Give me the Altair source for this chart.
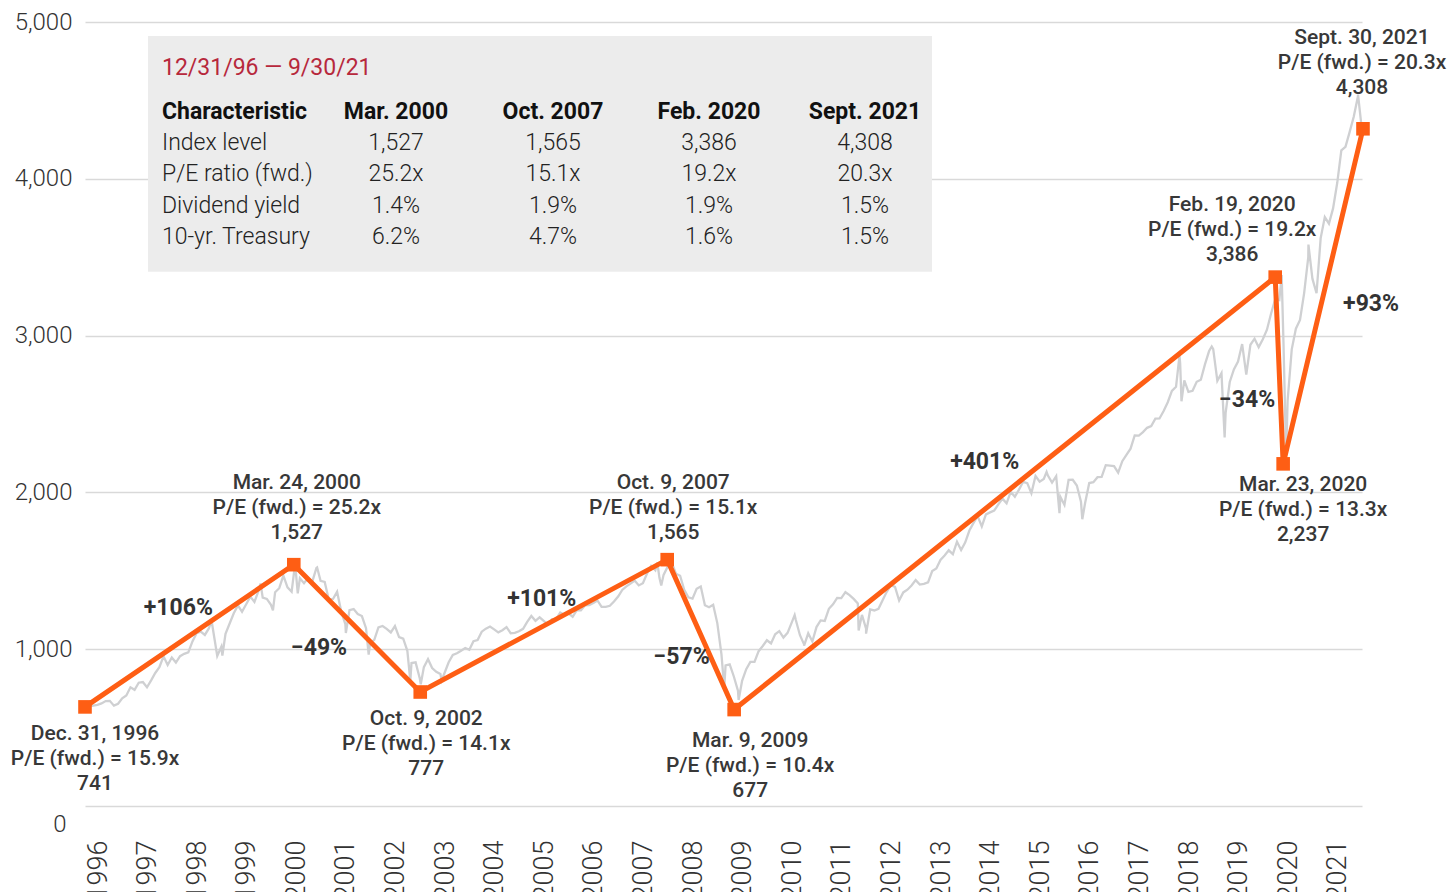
import altair as alt
import pandas as pd

# ------------------------------------------------------------------ data
years = list(range(1996, 2022))
y_ticks = [0, 1000, 2000, 3000, 4000, 5000]

# S&P 500 month-end closes
sp_1996_2000 = [636.02, 640.43, 645.50, 654.17, 669.12, 670.63, 639.95, 651.99, 687.31, 705.27, 757.02, 740.74,
                786.16, 790.82, 757.12, 801.34, 848.28, 885.14, 954.31, 899.47, 947.28, 914.62, 955.40, 970.43,
                980.28, 1049.34, 1101.75, 1111.75, 1090.82, 1133.84, 1120.67, 957.28, 1017.01, 1098.67, 1163.63, 1229.23,
                1279.64, 1238.33, 1286.37, 1335.18, 1301.84, 1372.71, 1328.72, 1320.41, 1282.71, 1362.93, 1388.91, 1469.25,
                1394.46, 1366.42, 1498.58, 1452.43, 1420.60, 1454.60, 1430.83, 1517.68, 1436.51, 1429.40, 1314.95, 1320.28]
sp_2001_2005 = [1366.01, 1239.94, 1160.33, 1249.46, 1255.82, 1224.42, 1211.23, 1133.58, 1040.94, 1059.78, 1139.45, 1148.08,
                1130.20, 1106.73, 1147.39, 1076.92, 1067.14, 989.82, 911.62, 916.07, 815.28, 885.76, 936.31, 879.82,
                855.70, 841.15, 848.18, 916.92, 963.59, 974.50, 990.31, 1008.01, 995.97, 1050.71, 1058.20, 1111.92,
                1131.13, 1144.94, 1126.21, 1107.30, 1120.68, 1140.84, 1101.72, 1104.24, 1114.58, 1130.20, 1173.82, 1211.92,
                1181.27, 1203.60, 1180.59, 1156.85, 1191.50, 1191.33, 1234.18, 1220.33, 1228.81, 1207.01, 1249.48, 1248.29]
sp_2006_2010 = [1280.08, 1280.66, 1294.83, 1310.61, 1270.09, 1270.20, 1276.66, 1303.82, 1335.85, 1377.94, 1400.63, 1418.30,
                1438.24, 1406.82, 1420.86, 1482.37, 1530.62, 1503.35, 1455.27, 1473.99, 1526.75, 1549.38, 1481.14, 1468.36,
                1378.55, 1330.63, 1322.70, 1385.59, 1400.38, 1280.00, 1267.38, 1282.83, 1166.36, 968.75, 896.24, 903.25,
                825.88, 735.09, 797.87, 872.81, 919.14, 919.32, 987.48, 1020.62, 1057.08, 1036.19, 1095.63, 1115.10,
                1073.87, 1104.49, 1169.43, 1186.69, 1089.41, 1030.71, 1101.60, 1049.33, 1141.20, 1183.26, 1180.55, 1257.64]
sp_2011_2015 = [1286.12, 1327.22, 1325.83, 1363.61, 1345.20, 1320.64, 1292.28, 1218.89, 1131.42, 1253.30, 1246.96, 1257.60,
                1312.41, 1365.68, 1408.47, 1397.91, 1310.33, 1362.16, 1379.32, 1406.58, 1440.67, 1412.16, 1416.18, 1426.19,
                1498.11, 1514.68, 1569.19, 1597.57, 1630.74, 1606.28, 1685.73, 1632.97, 1681.55, 1756.54, 1805.81, 1848.36,
                1782.59, 1859.45, 1872.34, 1883.95, 1923.57, 1960.23, 1930.67, 2003.37, 1972.29, 2018.05, 2067.56, 2058.90,
                1994.99, 2104.50, 2067.89, 2085.51, 2107.39, 2063.11, 2103.84, 1972.18, 1920.03, 2079.36, 2080.41, 2043.94]
sp_2016_2020 = [1940.24, 1932.23, 2059.74, 2065.30, 2096.95, 2098.86, 2173.60, 2170.95, 2168.27, 2126.15, 2198.81, 2238.83,
                2278.87, 2363.64, 2362.72, 2384.20, 2411.80, 2423.41, 2470.30, 2471.65, 2519.36, 2575.26, 2647.58, 2673.61,
                2823.81, 2713.83, 2640.87, 2648.05, 2705.27, 2718.37, 2816.29, 2901.52, 2913.98, 2711.74, 2760.17, 2506.85,
                2704.10, 2784.49, 2834.40, 2945.83, 2752.06, 2941.76, 2980.38, 2926.46, 2976.74, 3037.56, 3140.98, 3230.78,
                3225.52, 2954.22, 2584.59, 2912.43, 3044.31, 3100.29, 3271.12, 3500.31, 3363.00, 3269.96, 3621.63, 3756.07]
sp_2021 = [3714.24, 3811.15, 3972.89, 4181.17, 4204.11, 4297.50, 4395.26, 4522.68, 4307.54]

# intra-month highs / lows visible in the grey line (decimal year, level)
extreme_t = [1996.00, 1998.55, 1998.77, 1999.54, 1999.79, 2000.23, 2000.29, 2000.68, 2001.26, 2001.72,
             2002.56, 2002.77, 2003.19, 2007.54, 2007.62, 2007.77, 2008.89, 2009.18, 2010.31, 2010.50,
             2011.60, 2011.75, 2015.39, 2015.65, 2016.11, 2018.07, 2018.11, 2018.72, 2018.98, 2020.13,
             2020.22, 2020.67, 2021.67]
extreme_v = [615.93, 1186.75, 959.44, 1418.78, 1247.41, 1527.46, 1356.56, 1520.77, 1103.25, 965.80,
             797.70, 776.76, 800.73, 1553.08, 1406.70, 1565.15, 752.44, 676.53, 1217.28, 1022.58,
             1119.46, 1099.23, 2130.82, 1867.61, 1829.08, 2872.87, 2581.00, 2930.75, 2351.10, 3386.15,
             2237.40, 3580.84, 4536.95]

# orange peak-to-trough line, as drawn (decimal year, level)
orange_t = [1996.00, 2000.21, 2002.76, 2007.74, 2009.09, 2020.00, 2020.16, 2021.77]
orange_v = [632, 1539, 727, 1571, 615, 3373, 2182, 4319]
point_labels = [
    "Dec. 31, 1996\nP/E (fwd.) = 15.9x\n741",
    "Mar. 24, 2000\nP/E (fwd.) = 25.2x\n1,527",
    "Oct. 9, 2002\nP/E (fwd.) = 14.1x\n777",
    "Oct. 9, 2007\nP/E (fwd.) = 15.1x\n1,565",
    "Mar. 9, 2009\nP/E (fwd.) = 10.4x\n677",
    "Feb. 19, 2020\nP/E (fwd.) = 19.2x\n3,386",
    "Mar. 23, 2020\nP/E (fwd.) = 13.3x\n2,237",
    "Sept. 30, 2021\nP/E (fwd.) = 20.3x\n4,308",
]
change_labels = ["+106%", "\u221249%", "+101%", "\u221257%", "+401%", "\u221234%", "+93%"]

table_title = "12/31/96 \u2014 9/30/21"
table_header = ["Characteristic", "Mar. 2000", "Oct. 2007", "Feb. 2020", "Sept. 2021"]
table_rows = ["Index level", "P/E ratio (fwd.)", "Dividend yield", "10-yr. Treasury"]
col_mar2000 = ["1,527", "25.2x", "1.4%", "6.2%"]
col_oct2007 = ["1,565", "15.1x", "1.9%", "4.7%"]
col_feb2020 = ["3,386", "19.2x", "1.9%", "1.6%"]
col_sep2021 = ["4,308", "20.3x", "1.5%", "1.5%"]

# ------------------------------------------------------------------ styling / layout
ORANGE = "#fe5e14"
GREY_LINE = "#cfd0d2"
TEXT = "#383838"
FONT = "Roboto"
W, H = 1277, 784

# offsets (px) of annotation text relative to its marker / segment midpoint
point_offsets = [(10, 33), (3, -76), (6, 33), (6, -71), (16, 37), (-43, -66), (20, 27), (-1, -85)]
change_offsets = [(-11, -21), (-38, 27), (-2, -20), (-19, 29), (-20, -24), (-32, 37), (48, 15)]

table_cols_x = [77, 311, 468, 624, 780]   # px inside plot area
table_header_y = 97
table_body_y = 128
table_line_h = 31.3

# ------------------------------------------------------------------ frames
monthly = sp_1996_2000 + sp_2001_2005 + sp_2006_2010 + sp_2011_2015 + sp_2016_2020 + sp_2021
month_t = [1996 + (i + 1) / 12 for i in range(len(monthly))]
grey = pd.DataFrame({"t": month_t + extreme_t, "v": monthly + extreme_v}).sort_values("t")

orange = pd.DataFrame({"t": orange_t, "v": orange_v, "label": point_labels})
seg = pd.DataFrame({
    "t": [(orange_t[i] + orange_t[i + 1]) / 2 for i in range(len(change_labels))],
    "v": [(orange_v[i] + orange_v[i + 1]) / 2 for i in range(len(change_labels))],
    "label": change_labels,
})


def X():
    return alt.X("t:Q",
                 scale=alt.Scale(domain=[1996, 2021.75], nice=False, zero=False),
                 axis=alt.Axis(values=years, format="d", labelAngle=270, labelAlign="right",
                               labelBaseline="top", labelPadding=34, ticks=False, domain=False,
                               grid=False, labelFont=FONT, labelFontSize=27, labelFontWeight=300,
                               labelColor="#333333", labelOverlap=False, labelFlush=False, title=None))


def Y():
    return alt.Y("v:Q",
                 scale=alt.Scale(domain=[0, 5000], nice=False),
                 axis=alt.Axis(values=y_ticks, format=",d",
                               labelExpr="datum.value === 0 ? '' : datum.label",
                               ticks=False, domain=False, grid=True, gridColor="#d9d9d9",
                               gridWidth=1.5, labelPadding=13, labelFont=FONT, labelFontSize=24,
                               labelFontWeight=300, labelColor="#333333", title=None))


layers = []
layers.append(alt.Chart(grey).mark_line(color=GREY_LINE, strokeWidth=2.3).encode(x=X(), y=Y()))
layers.append(alt.Chart(orange).mark_line(color=ORANGE, strokeWidth=5).encode(x=X(), y=Y()))
layers.append(alt.Chart(orange).mark_square(color=ORANGE, size=185, opacity=1).encode(x=X(), y=Y()))

# zero label (sits lower-left in the original)
layers.append(alt.Chart(pd.DataFrame({"t": [1996], "v": [0], "label": ["0"]}))
              .mark_text(dx=-25, dy=26, align="center", baseline="alphabetic", font=FONT,
                         fontSize=24, fontWeight=300, color="#333333")
              .encode(x=X(), y=Y(), text="label:N"))

for i, (dx, dy) in enumerate(point_offsets):
    layers.append(alt.Chart(orange.iloc[[i]])
                  .mark_text(dx=dx, dy=dy, align="center", baseline="alphabetic", lineBreak="\n",
                             lineHeight=25, font=FONT, fontSize=21, fontWeight=500, color=TEXT)
                  .encode(x=X(), y=Y(), text="label:N"))

for i, (dx, dy) in enumerate(change_offsets):
    layers.append(alt.Chart(seg.iloc[[i]])
                  .mark_text(dx=dx, dy=dy, align="center", baseline="alphabetic",
                             font=FONT, fontSize=23, fontWeight=700, color="#333333")
                  .encode(x=X(), y=Y(), text="label:N"))

# table box
one = pd.DataFrame({"k": [0]})
layers.append(alt.Chart(one).mark_rect(color="#ececec").encode(
    x=alt.value(63), x2=alt.value(847), y=alt.value(14), y2=alt.value(249.7)))
layers.append(alt.Chart(pd.DataFrame({"label": [table_title]}))
              .mark_text(align="left", baseline="alphabetic", font=FONT, fontSize=23,
                         fontWeight=400, color="#b7283c")
              .encode(x=alt.value(77), y=alt.value(53), text="label:N"))

columns = [table_rows, col_mar2000, col_oct2007, col_feb2020, col_sep2021]
for j, (hdr, col) in enumerate(zip(table_header, columns)):
    align = "left" if j == 0 else "center"
    layers.append(alt.Chart(pd.DataFrame({"label": [hdr]}))
                  .mark_text(align=align, baseline="alphabetic", font=FONT, fontSize=23,
                             fontWeight=700, color="#111111")
                  .encode(x=alt.value(table_cols_x[j]), y=alt.value(table_header_y), text="label:N"))
    layers.append(alt.Chart(pd.DataFrame({"label": ["\n".join(col)]}))
                  .mark_text(align=align, baseline="alphabetic", lineBreak="\n", lineHeight=table_line_h,
                             font=FONT, fontSize=23, fontWeight=300, color="#222222")
                  .encode(x=alt.value(table_cols_x[j]), y=alt.value(table_body_y), text="label:N"))

chart = (alt.layer(*layers)
         .properties(width=W, height=H, autosize=alt.AutoSizeParams(type="none"),
                     padding={"left": 85, "top": 22, "right": 88, "bottom": 86},
                     background="white")
         .configure_view(stroke=None))

chart.save("out.html", embed_options={"renderer": "svg", "actions": False})
